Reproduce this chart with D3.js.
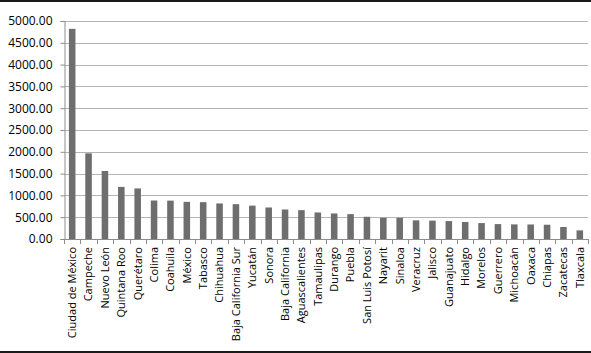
<!DOCTYPE html>
<html>
<head>
<meta charset="utf-8">
<script src="https://cdn.jsdelivr.net/npm/d3@7/dist/d3.min.js"></script>
<style>
  body { margin: 0; background: #fff; }
  svg { display: block; }
  text { font-family: "Open Sans", sans-serif; fill: #000; }
</style>
</head>
<body>
<div id="chart"></div>
<script>
const states = [
  'Ciudad de México', 'Campeche', 'Nuevo León', 'Quintana Roo', 'Querétaro',
  'Colima', 'Coahuila', 'México', 'Tabasco', 'Chihuahua', 'Baja California Sur',
  'Yucatán', 'Sonora', 'Baja California', 'Aguascalientes', 'Tamaulipas',
  'Durango', 'Puebla', 'San Luis Potosí', 'Nayarit', 'Sinaloa', 'Veracruz',
  'Jalisco', 'Guanajuato', 'Hidalgo', 'Morelos', 'Guerrero', 'Michoacán',
  'Oaxaca', 'Chiapas', 'Zacatecas', 'Tlaxcala'
];
const values = [
  4820, 1965, 1560, 1195, 1160, 883, 880, 852, 845, 815, 799,
  765, 723, 677, 662, 609, 586, 571, 510, 487, 485, 428,
  421, 411, 390, 365, 342, 335, 333, 327, 275, 198
];
const yTicks = [0, 500, 1000, 1500, 2000, 2500, 3000, 3500, 4000, 4500, 5000];

const width = 591, height = 353;
const plotLeft = 64, plotRight = 588, plotTop = 21, plotBottom = 239;

const svg = d3.select('#chart').append('svg')
  .attr('width', width)
  .attr('height', height);

// top and bottom frame lines
svg.append('rect').attr('x', 0).attr('y', 0).attr('width', width).attr('height', 2).attr('fill', '#1a1a1a');
svg.append('rect').attr('x', 0).attr('y', 351).attr('width', width).attr('height', 2).attr('fill', '#1a1a1a');

const x = d3.scaleBand()
  .domain(states)
  .range([plotLeft, plotRight])
  .paddingInner(0.6)
  .paddingOuter(0.3);

const y = d3.scaleLinear()
  .domain([0, 5000])
  .range([plotBottom, plotTop]);

// gridlines
svg.append('g')
  .selectAll('line')
  .data(yTicks.slice(1))
  .enter()
  .append('line')
  .attr('x1', plotLeft)
  .attr('x2', plotRight)
  .attr('y1', d => Math.round(y(d)) + 0.5)
  .attr('y2', d => Math.round(y(d)) + 0.5)
  .attr('stroke', '#b4b4b4')
  .attr('stroke-width', 1);

// bars
svg.append('g')
  .selectAll('rect')
  .data(values)
  .enter()
  .append('rect')
  .attr('x', (d, i) => x(states[i]))
  .attr('y', d => y(d))
  .attr('width', x.bandwidth())
  .attr('height', d => plotBottom - y(d))
  .attr('fill', '#6e6e6e');

// y axis
const yAxis = d3.axisLeft(y)
  .tickValues(yTicks)
  .tickSize(4)
  .tickPadding(8)
  .tickFormat(d3.format('.2f'));

const gy = svg.append('g')
  .attr('transform', `translate(${plotLeft + 0.5},0)`)
  .call(yAxis);
gy.select('.domain').attr('stroke', '#8c8c8c');
gy.selectAll('.tick line').attr('stroke', '#8c8c8c');
gy.selectAll('.tick text')
  .style('font-family', '"Open Sans", sans-serif')
  .style('font-size', '12px')
  .attr('fill', '#000');

// x axis line and category ticks
const bounds = d3.range(states.length + 1).map(i => plotLeft + i * (plotRight - plotLeft) / states.length);
svg.append('line')
  .attr('x1', plotLeft).attr('x2', plotRight)
  .attr('y1', plotBottom + 0.5).attr('y2', plotBottom + 0.5)
  .attr('stroke', '#8c8c8c');
svg.append('g')
  .selectAll('line')
  .data(bounds)
  .enter()
  .append('line')
  .attr('x1', d => Math.round(d) + 0.5)
  .attr('x2', d => Math.round(d) + 0.5)
  .attr('y1', plotBottom)
  .attr('y2', plotBottom + 5)
  .attr('stroke', '#8c8c8c');

// x labels
svg.append('g')
  .selectAll('text')
  .data(states)
  .enter()
  .append('text')
  .attr('transform', d => `translate(${x(d) + x.bandwidth() / 2},${plotBottom + 8}) rotate(-90)`)
  .attr('text-anchor', 'end')
  .attr('dy', '0.35em')
  .style('font-size', '11px')
  .text(d => d);
</script>
</body>
</html>
